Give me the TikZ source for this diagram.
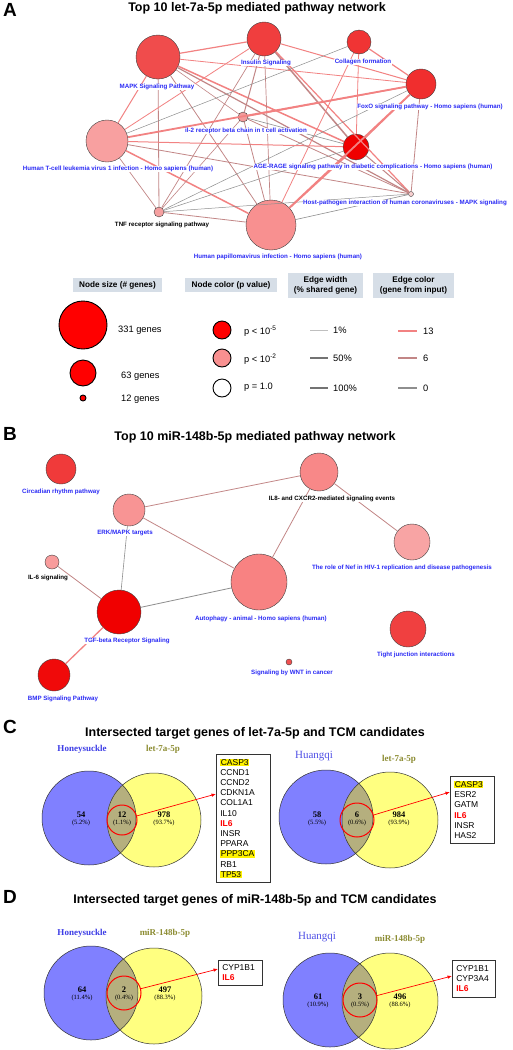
\documentclass[tikz,border=0pt]{standalone}
\usepackage{fontspec}
\setmainfont{Liberation Sans}
\newfontfamily\tnr{Liberation Serif}
\usetikzlibrary{positioning, arrows.meta}

\definecolor{pwblue}{HTML}{2B2BF5}
\definecolor{e13c}{HTML}{F28282}
\definecolor{e6c}{HTML}{C28686}
\definecolor{e0c}{HTML}{8E8E8E}
\definecolor{lgray}{HTML}{D6DEE7}
\definecolor{vblue}{HTML}{8080FF}
\definecolor{vyellow}{HTML}{FFFF80}
\definecolor{vmix}{HTML}{B5AF7E}
\definecolor{hsblue}{HTML}{3C3CE6}
\definecolor{hqblue}{HTML}{5050E6}
\definecolor{olive}{HTML}{8C8C32}
\definecolor{pink}{HTML}{F89090}

\newcommand\genehl[1]{{\fboxsep=0.6pt\colorbox{yellow}{#1}}}
\newcommand\geneil[1]{\textcolor{red}{\bfseries #1}}

\begin{document}
\begin{tikzpicture}[x=1pt, y=-1pt,
	% pathway node, size = number of genes
	pw/.style={circle, draw=black!75, line width=0.4pt, inner sep=0pt, minimum size=#1},
	% pathway labels
	pwlabel/.style={font=\fontsize{6.2}{7}\selectfont\bfseries, text=pwblue, fill=white, inner sep=0.5pt},
	pwblack/.style={pwlabel, text=black},
	% edge colours (genes from input)
	e13/.style={draw=e13c},
	e6/.style={draw=e6c},
	e0/.style={draw=e0c},
	% titles and panel letters
	ptitle/.style={font=\fontsize{12.5}{14}\selectfont\bfseries},
	panel/.style={font=\fontsize{19}{20}\selectfont\bfseries, anchor=north west, inner sep=0pt},
	% legend
	lhead/.style={fill=lgray, font=\fontsize{8.2}{9.7}\selectfont\bfseries, align=center, inner sep=1pt},
	ltext/.style={font=\fontsize{9.3}{10}\selectfont, anchor=west, inner sep=0pt},
	lnode/.style={circle, draw=black, line width=0.9pt, inner sep=0pt, minimum size=#1},
	% venn diagrams
	vname/.style={font=\fontsize{9}{10}\selectfont\tnr\bfseries},
	vnum/.style={font=\fontsize{8.5}{9}\selectfont\tnr\bfseries, inner sep=0pt},
	vpct/.style={font=\fontsize{6.5}{7}\selectfont\tnr, inner sep=0pt},
	vline/.style={draw=black!80, line width=0.5pt},
	ring/.style={circle, draw=red, line width=1pt, inner sep=0pt, minimum size=#1},
	tiparrow/.style={draw=red, line width=0.7pt, -{Latex[length=4.5pt, width=3.5pt]}},
	genebox/.style={draw=black!80, line width=0.5pt, anchor=north west, align=left, font=\fontsize{8.5}{10.2}\selectfont, inner xsep=4pt, inner ysep=2pt}
	]
	\fill[white] (0,0) rectangle (512,1050);
	\useasboundingbox (0,0) rectangle (512,1050);
	
	%% ---------------- A ----------------
	\node[panel] (pA) at (3,3) {A};
	\node[ptitle] (tA) at (257,8) {Top 10 let-7a-5p mediated pathway network};
	
	\node[pw=44pt, fill={rgb,255:red,240;green,76;blue,76}] (mapk) at (158,57) {};
	\node[pw=34pt, fill={rgb,255:red,240;green,62;blue,62}] (ins) at (264,39) {};
	\node[pw=24pt, fill={rgb,255:red,240;green,52;blue,52}] (col) at (359,42) {};
	\node[pw=30pt, fill={rgb,255:red,240;green,46;blue,46}] (foxo) at (421,84) {};
	\node[pw=10pt, fill={rgb,255:red,243;green,154;blue,154}] (il2) at (243,117) {};
	\node[pw=42pt, fill={rgb,255:red,248;green,160;blue,160}] (htlv) at (107,141) {};
	\node[pw=26pt, fill={rgb,255:red,240;green,0;blue,0}] (age) at (356,147) {};
	\node[pw=5pt, fill={rgb,255:red,248;green,208;blue,208}] (host) at (411,194) {};
	\node[pw=10pt, fill={rgb,255:red,245;green,160;blue,160}] (tnf) at (159,212) {};
	\node[pw=50pt, fill={rgb,255:red,248;green,144;blue,144}] (hpv) at (271,225) {};
	
	% edges: colour = genes from input, width = shared genes
	\foreach \a/\b/\c/\w in {mapk/ins/e13/1.2, mapk/htlv/e13/1.0, mapk/tnf/e6/0.8,
		mapk/foxo/e13/0.8, mapk/age/e13/1.5, mapk/host/e6/1.2, mapk/il2/e6/0.6,
		mapk/hpv/e6/0.8, ins/htlv/e13/0.8, ins/foxo/e13/1.0, ins/il2/e6/1.0,
		ins/tnf/e6/0.7, ins/hpv/e6/0.7, ins/age/e6/1.5, ins/host/e13/1.2,
		col/htlv/e0/0.5, col/hpv/e13/0.8, col/age/e13/0.8, col/foxo/e13/1.2,
		foxo/htlv/e13/1.8, foxo/il2/e13/1.2, foxo/age/e13/1.0, foxo/hpv/e13/1.8,
		foxo/host/e6/0.8, foxo/tnf/e0/0.5, htlv/age/e13/1.0, htlv/host/e6/0.8,
		htlv/tnf/e6/0.7, htlv/hpv/e13/1.5, tnf/age/e0/0.5, tnf/hpv/e6/0.8,
		tnf/host/e0/0.5, tnf/il2/e6/0.6, hpv/age/e13/1.5, hpv/host/e0/0.6,
		age/host/e6/1.0, il2/hpv/e6/0.8, il2/age/e0/0.6, il2/host/e6/0.8}{
		\draw[\c, line width=\w pt] (\a) -- (\b);
	}
	
	\node[pwlabel] (mapkL) at (157,87) {MAPK Signaling Pathway};
	\node[pwlabel] (insL) at (266,63) {Insulin Signaling};
	\node[pwlabel] (colL) at (363,62) {Collagen formation};
	\node[pwlabel] (foxoL) at (430,107) {FoxO signaling pathway - Homo sapiens (human)};
	\node[pwlabel] (il2L) at (246,131) {il-2 receptor beta chain in t cell activation};
	\node[pwlabel] (htlvL) at (118,169) {Human T-cell leukemia virus 1 infection - Homo sapiens (human)};
	\node[pwlabel] (ageL) at (373,167) {AGE-RAGE signaling pathway in diabetic complications - Homo sapiens (human)};
	\node[pwlabel] (hostL) at (405,203) {Host-pathogen interaction of human coronaviruses - MAPK signaling};
	\node[pwblack] (tnfL) at (162,225) {TNF receptor signaling pathway};
	\node[pwlabel] (hpvL) at (278,257) {Human papillomavirus infection - Homo sapiens (human)};
	
	% legend
	\node[lhead, minimum width=89pt, minimum height=14pt] (hSize) at (117.5,285) {Node size (\# genes)};
	\node[lhead, minimum width=92pt, minimum height=14pt] (hCol) at (231,285) {Node color (p value)};
	\node[lhead, minimum width=75pt, minimum height=25pt] (hWid) at (325.5,285.5) {Edge width\\(\% shared gene)};
	\node[lhead, minimum width=81pt, minimum height=25pt] (hEcol) at (413.5,285.5) {Edge color\\(gene from input)};
	
	\node[lnode=48pt, fill=red] (s331) at (83,325) {};
	\node[lnode=26pt, fill=red] (s63) at (83,373) {};
	\node[lnode=6pt, fill=red] (s12) at (83,398) {};
	\node[ltext] at (118,330) {331 genes};
	\node[ltext] at (121,376) {63 genes};
	\node[ltext] at (121,399) {12 genes};
	
	\node[lnode=18pt, fill=red] (p5) at (222,330) {};
	\node[lnode=18pt, fill=pink] (p2) at (222,358) {};
	\node[lnode=18pt, fill=white] (p1) at (222,388) {};
	\node[ltext] at (244,331) {p < 10\textsuperscript{-5}};
	\node[ltext] at (244,359) {p < 10\textsuperscript{-2}};
	\node[ltext] at (244,387) {p = 1.0};
	
	\foreach \y/\w/\c/\t in {330/0.4/black!25/1\%, 358/1.2/black!55/50\%, 388/2.6/black!55/100\%}{
		\coordinate (w\y a) at (310,\y);
		\coordinate (w\y b) at (328,\y);
		\draw[draw=\c, line width=\w pt] (w\y a) -- (w\y b);
		\node[ltext] at (333,\y) {\t};
	}
	\foreach \y/\c/\t in {331/e13/13, 358/e6/6, 388/e0/0}{
		\coordinate (c\y a) at (398,\y);
		\coordinate (c\y b) at (417,\y);
		\draw[\c, line width=1.6pt] (c\y a) -- (c\y b);
		\node[ltext] at (423,\y) {\t};
	}
	
	%% ---------------- B ----------------
	\node[panel] (pB) at (3,427) {B};
	\node[ptitle] (tB) at (255,437) {Top 10 miR-148b-5p mediated pathway network};
	
	\node[pw=30pt, fill={rgb,255:red,240;green,58;blue,58}] (circ) at (61,469) {};
	\node[pw=38pt, fill={rgb,255:red,248;green,136;blue,136}] (il8) at (319,472) {};
	\node[pw=32pt, fill={rgb,255:red,248;green,148;blue,148}] (erk) at (129,510) {};
	\node[pw=36pt, fill={rgb,255:red,248;green,164;blue,164}] (nef) at (412,542) {};
	\node[pw=14pt, fill={rgb,255:red,248;green,156;blue,156}] (il6) at (52,562) {};
	\node[pw=56pt, fill={rgb,255:red,248;green,130;blue,130}] (auto) at (259,582) {};
	\node[pw=44pt, fill={rgb,255:red,240;green,0;blue,0}] (tgf) at (119,612) {};
	\node[pw=32pt, fill={rgb,255:red,240;green,10;blue,10}] (bmp) at (54,675) {};
	\node[pw=36pt, fill={rgb,255:red,240;green,64;blue,64}] (tight) at (408,629) {};
	\node[pw=6pt, fill={rgb,255:red,240;green,80;blue,80}] (wnt) at (289,662) {};
	
	\foreach \a/\b/\c/\w in {erk/il8/e6/0.8, il8/auto/e6/0.8, il8/nef/e6/0.8,
		erk/auto/e6/0.8, erk/tgf/e0/0.6, il6/tgf/e6/0.8, tgf/auto/e0/0.8, tgf/bmp/e13/1.3}{
		\draw[\c, line width=\w pt] (\a) -- (\b);
	}
	
	\node[pwlabel] (circL) at (61,492) {Circadian rhythm pathway};
	\node[pwblack] (il8L) at (332,499) {IL8- and CXCR2-mediated signaling events};
	\node[pwlabel] (erkL) at (125,533) {ERK/MAPK targets};
	\node[pwlabel] (nefL) at (402,568) {The role of Nef in HIV-1 replication and disease pathogenesis};
	\node[pwblack] (il6L) at (48,578) {IL-6 signaling};
	\node[pwlabel] (autoL) at (261,619) {Autophagy - animal - Homo sapiens (human)};
	\node[pwlabel] (tgfL) at (127,641) {TGF-beta Receptor Signaling};
	\node[pwlabel] (bmpL) at (63,699) {BMP Signaling Pathway};
	\node[pwlabel] (tightL) at (416,655) {Tight junction interactions};
	\node[pwlabel] (wntL) at (292,673) {Signaling by WNT in cancer};
	
	%% ---------------- C and D ----------------
	\node[panel] (pC) at (3,720) {C};
	\node[ptitle] (tC) at (255,733) {Intersected target genes of let-7a-5p and TCM candidates};
	\node[panel] (pD) at (3,890) {D};
	\node[ptitle] (tD) at (255,900) {Intersected target genes of miR-148b-5p and TCM candidates};
	
	% the four venn diagrams
	\foreach \lx/\ly/\lr/\rx/\ry/\rr in {89/818/47/154/820/47, 326/817/47/390/820/48,
		91/993/47/154/996/48, 330/1000/47/390/1001/48}{
		\fill[vblue] (\lx,\ly) circle[radius=\lr pt];
		\fill[vyellow] (\rx,\ry) circle[radius=\rr pt];
		\begin{scope}
			\clip (\lx,\ly) circle[radius=\lr pt];
			\fill[vmix] (\rx,\ry) circle[radius=\rr pt];
		\end{scope}
		\draw[vline] (\lx,\ly) circle[radius=\lr pt] (\rx,\ry) circle[radius=\rr pt];
	}
	
	\node[vname, text=hsblue] (hs1) at (82,749) {Honeysuckle};
	\node[vname, text=olive] (let1) at (163,749) {let-7a-5p};
	\node[font=\fontsize{11}{12}\selectfont\tnr, text=hqblue] (hq1) at (314,756) {Huangqi};
	\node[vname, text=olive] (let2) at (399,759) {let-7a-5p};
	\node[vname, text=hsblue] (hs2) at (82,933) {Honeysuckle};
	\node[vname, text=olive] (mir1) at (165,933) {miR-148b-5p};
	\node[font=\fontsize{11}{12}\selectfont\tnr, text=hqblue] (hq2) at (317,937) {Huangqi};
	\node[vname, text=olive] (mir2) at (400,939) {miR-148b-5p};
	
	\foreach \x/\y/\n/\p in {81/815/54/5.2, 122/815/12/1.1, 164/815/978/93.7,
		317/815/58/5.5, 357/815/6/0.6, 399/815/984/93.9,
		82/990/64/11.4, 124/990/2/0.4, 165/990/497/88.3,
		318/997/61/10.9, 360/997/3/0.5, 400/997/496/88.6}{
		\node[vnum] at (\x,\y) {\n};
		\node[vpct] at (\x,\y+7.5) {(\p\%)};
	}
	
	% shared genes
	\node[ring=30pt] (r1) at (122,820) {};
	\node[ring=34pt] (r2) at (357,820) {};
	\node[ring=34pt] (r3) at (124,993) {};
	\node[ring=34pt] (r4) at (360,1000) {};
	
	\node[genebox, text width=46pt, minimum height=128pt] (g1) at (216,754)
		{\genehl{CASP3}\\CCND1\\CCND2\\CDKN1A\\COL1A1\\IL10\\\geneil{IL6}\\INSR\\PPARA\\\genehl{PPP3CA}\\RB1\\\genehl{TP53}};
	\node[genebox, text width=36pt, minimum height=67pt] (g2) at (450,776)
		{\genehl{CASP3}\\ESR2\\GATM\\\geneil{IL6}\\INSR\\HAS2};
	\node[genebox, text width=36pt, minimum height=25pt] (g3) at (218,960)
		{CYP1B1\\\geneil{IL6}};
	\node[genebox, text width=35pt, minimum height=37pt] (g4) at (452,960)
		{CYP1B1\\CYP3A4\\\geneil{IL6}};
	
	\coordinate (a1) at (216,794);
	\coordinate (a2) at (450,792);
	\coordinate (a3) at (218,969);
	\coordinate (a4) at (452,976);
	\draw[tiparrow] (r1) -- (a1);
	\draw[tiparrow] (r2) -- (a2);
	\draw[tiparrow] (r3) -- (a3);
	\draw[tiparrow] (r4) -- (a4);
	
\end{tikzpicture}
\end{document}
